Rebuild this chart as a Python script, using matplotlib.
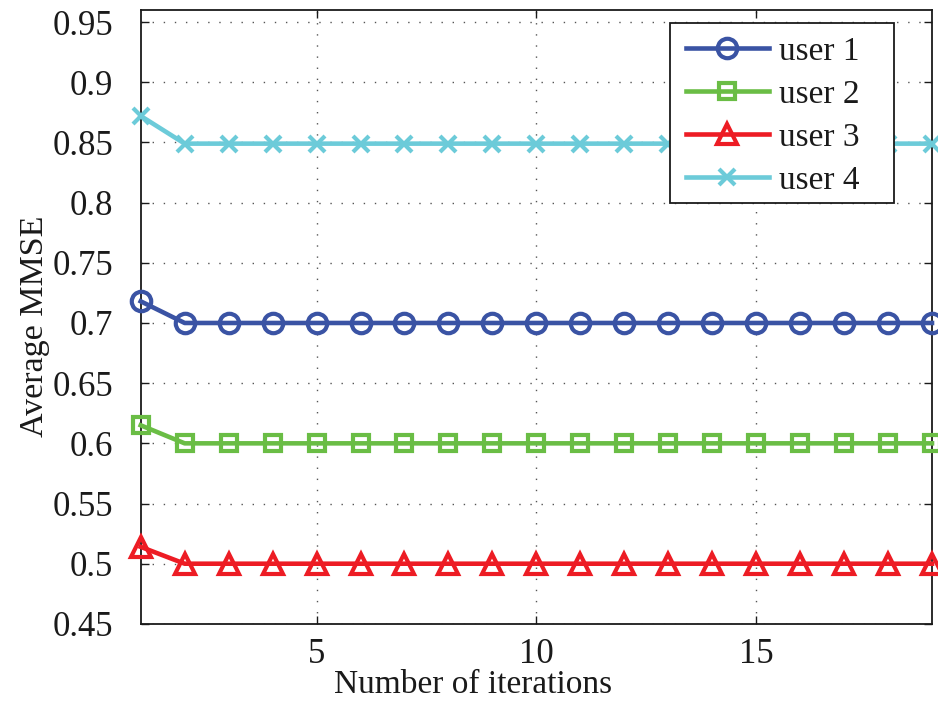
import matplotlib
matplotlib.use("Agg")
import matplotlib.pyplot as plt
from matplotlib.patches import Rectangle

iterations = list(range(1, 20))
user1 = [0.718] + [0.700] * 18
user2 = [0.615] + [0.600] * 18
user3 = [0.514] + [0.500] * 18
user4 = [0.872] + [0.849] * 18
labels = ["user 1", "user 2", "user 3", "user 4"]
yticks = [0.45, 0.5, 0.55, 0.6, 0.65, 0.7, 0.75, 0.8, 0.85, 0.9, 0.95]
ytick_labels = ["0.45", "0.5", "0.55", "0.6", "0.65", "0.7", "0.75",
                "0.8", "0.85", "0.9", "0.95"]
xticks = [5, 10, 15]

plt.rcParams['font.family'] = ['Liberation Serif', 'DejaVu Serif']
ink = "#1a1a1a"

fig = plt.figure(figsize=(9.38, 7.01), dpi=100)
ax = fig.add_axes([0.150, 0.110, 0.8436, 0.8757])

styles = [
    (user1, "#3a53a4", "o", 14),
    (user2, "#6abd45", "s", 11.5),
    (user3, "#ed1c24", "^", 15),
    (user4, "#6ccbd9", "x", 11),
]
handles = []
for (vals, col, mk, ms), lab in zip(styles, labels):
    h, = ax.plot(iterations, vals, color=col, lw=3.3, marker=mk, ms=ms,
                 mfc="none", mec=col, mew=3, label=lab, clip_on=False,
                 zorder=3)
    handles.append(h)

ax.set_xlim(1, 19)
ax.set_ylim(0.45, 0.96)
ax.set_xticks(xticks)
ax.set_yticks(yticks)
ax.set_yticklabels(ytick_labels)
ax.tick_params(axis="both", direction="in", top=True, right=True,
               labelsize=25, length=6, width=1, colors=ink)
ax.tick_params(axis="y", pad=20)
ax.tick_params(axis="x", pad=10)
ax.grid(True, linestyle=(0, (1, 7)), color="#555555", lw=1)
for s in ax.spines.values():
    s.set_linewidth(1.3)
    s.set_color(ink)

ax.set_ylabel("Average MMSE", fontsize=24.5, color=ink)
ax.yaxis.set_label_coords(-0.115, 0.484)
ax.set_xlabel("Number of iterations", fontsize=24, color=ink)
ax.xaxis.set_label_coords(0.42, -0.074)

# legend box drawn as a separate framed rectangle
box = Rectangle((0.6688, 0.6857), 0.2832, 0.2931, transform=ax.transAxes,
                facecolor="white", edgecolor=ink, lw=1.3, zorder=5,
                clip_on=False)
ax.add_patch(box)
leg = ax.legend(handles=handles, loc="upper left",
                bbox_to_anchor=(0.6675, 0.984), fontsize=24, frameon=False,
                handlelength=2.5, borderpad=0.0, labelspacing=0.37,
                handletextpad=0.3, markerscale=1.0)
leg.set_zorder(6)
for t in leg.get_texts():
    t.set_color(ink)

fig.savefig("out.png", dpi=100, facecolor="white")
